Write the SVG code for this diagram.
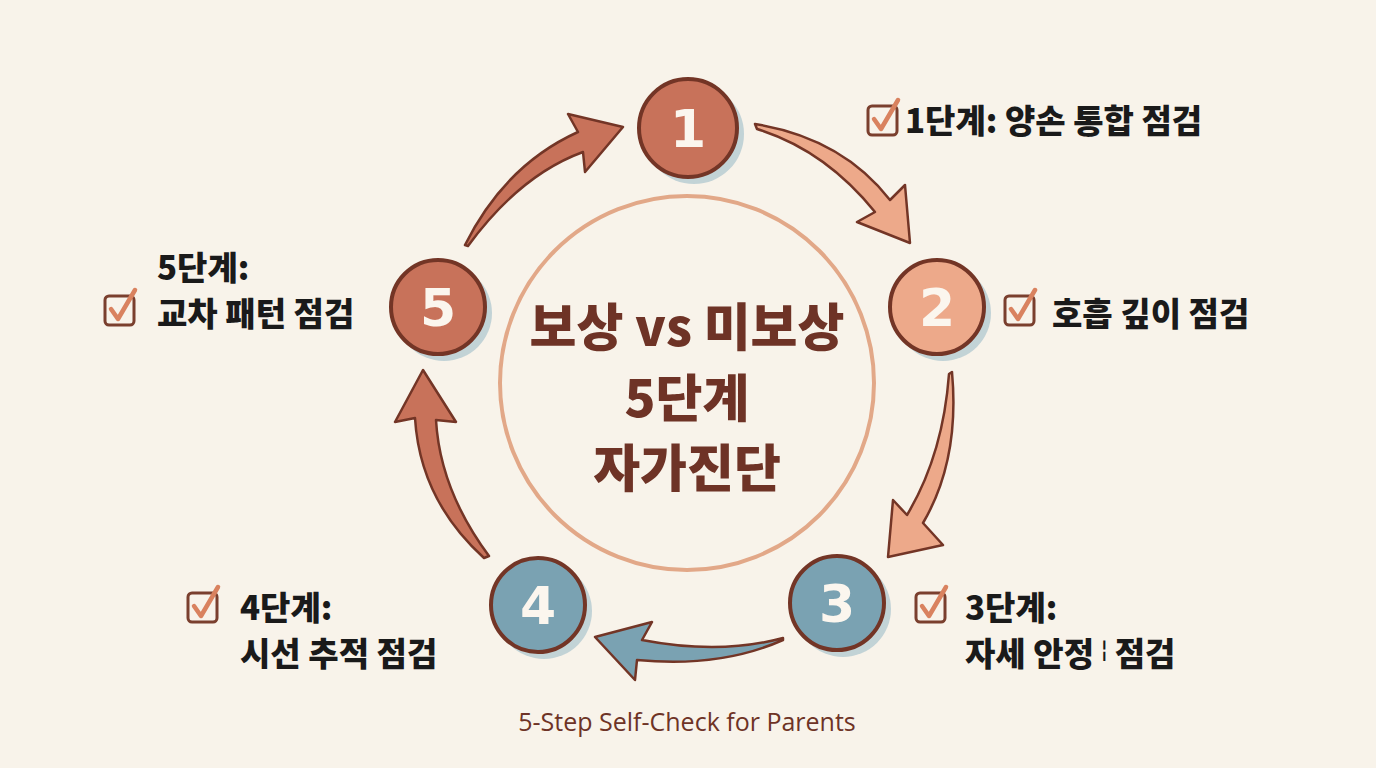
<svg xmlns="http://www.w3.org/2000/svg" width="1376" height="768" viewBox="0 0 1376 768">
<defs>
<style>
.bg{fill:#f8f3ea}
.ring{fill:none;stroke:#e2a888;stroke-width:4}
.shadow{fill:#b9ccd2;opacity:0.85}
.node{stroke:#733526;stroke-width:4}
.terra{fill:#c8725a}
.peach{fill:#eda98a}
.blue{fill:#7aa2b2}
.num{font-family:"DejaVu Sans","Liberation Sans",sans-serif;font-weight:700;font-size:52px;fill:#fbf6ee;text-anchor:middle}
.title{font-family:"Noto Sans CJK KR","Noto Sans",sans-serif;font-weight:900;font-size:51px;fill:#6e3326;text-anchor:middle}
.lbl{font-family:"Noto Sans CJK KR","Noto Sans",sans-serif;font-weight:900;font-size:33px;fill:#1a1a1a}
.box{fill:none;stroke:#7a3f2e;stroke-width:3}
.chk{fill:none;stroke:#d9825f;stroke-width:4.5;stroke-linecap:round;stroke-linejoin:round}
.arrow{stroke:#733526;stroke-width:2.5;stroke-linejoin:round}
.foot{font-family:"Open Sans","Noto Sans",sans-serif;font-size:25px;fill:#6e3326;text-anchor:middle}
</style>
<g id="checkbox">
<rect class="box" x="0" y="0" width="29" height="29" rx="4"/>
<path class="chk" d="M6,13 L13,23 L30,-6"/>
</g>
</defs>
<rect class="bg" x="0" y="0" width="1376" height="768"/>

<g id="center">
<circle class="ring" cx="687" cy="383" r="187"/>
<text class="title" x="687" y="346">보상 vs 미보상</text>
<text class="title" x="687" y="417">5단계</text>
<text class="title" x="687" y="487">자가진단</text>
</g>

<g id="connectors">
<path class="arrow terra" d="M465,245 Q505,165 578,132 L568,114 L623,127 L585,172 L583,152 Q520,175 468,246 Z"/>
<path class="arrow peach" d="M755,124 Q842,138 890,200 L905,185 L910,243 L857,222 L875,212 Q825,150 757,129 Z"/>
<path class="arrow peach" d="M952,372 Q960,460 923,523 L943,545 L888,557 L893,500 L907,515 Q943,455 949,374 Z"/>
<path class="arrow blue" d="M783,638 Q720,655 642,640 L652,622 L595,637 L635,680 L637,660 Q720,668 783,640 Z"/>
<path class="arrow terra" d="M489,556 Q440,490 436,420 L456,422 L423,370 L395,422 L415,418 Q420,500 484,558 Z"/>
</g>

<g id="node1">
<circle class="shadow" cx="694" cy="134" r="50"/>
<circle class="node terra" cx="688" cy="128" r="49"/>
<text class="num" x="688" y="147">1</text>
</g>
<g id="node2">
<circle class="shadow" cx="943" cy="313" r="48"/>
<circle class="node peach" cx="937" cy="307" r="47"/>
<text class="num" x="937" y="326">2</text>
</g>
<g id="node3">
<circle class="shadow" cx="843" cy="609" r="48"/>
<circle class="node blue" cx="837" cy="603" r="47"/>
<text class="num" x="837" y="622">3</text>
</g>
<g id="node4">
<circle class="shadow" cx="544" cy="611" r="48"/>
<circle class="node blue" cx="538" cy="605" r="47"/>
<text class="num" x="538" y="624">4</text>
</g>
<g id="node5">
<circle class="shadow" cx="444" cy="313" r="48"/>
<circle class="node terra" cx="438" cy="307" r="47"/>
<text class="num" x="438" y="326">5</text>
</g>

<g id="label1">
<use href="#checkbox" x="868" y="106"/>
<text class="lbl" x="905" y="133">1단계: 양손 통합 점검</text>
</g>
<g id="label2">
<use href="#checkbox" x="1005" y="296"/>
<text class="lbl" x="1052" y="326">호흡 깊이 점검</text>
</g>
<g id="label3">
<use href="#checkbox" x="916" y="593"/>
<text class="lbl" x="965" y="620">3단계:</text>
<text class="lbl" x="965" y="666">자세 안정 <tspan font-size="18" dy="-10">¦</tspan><tspan dy="10"> 점검</tspan></text>
</g>
<g id="label4">
<use href="#checkbox" x="188" y="593"/>
<text class="lbl" x="240" y="620">4단계:</text>
<text class="lbl" x="240" y="666">시선 추적 점검</text>
</g>
<g id="label5">
<text class="lbl" x="157" y="280">5단계:</text>
<use href="#checkbox" x="105" y="296"/>
<text class="lbl" x="157" y="326">교차 패턴 점검</text>
</g>

<text class="foot" x="687" y="731">5-Step Self-Check for Parents</text>
</svg>
